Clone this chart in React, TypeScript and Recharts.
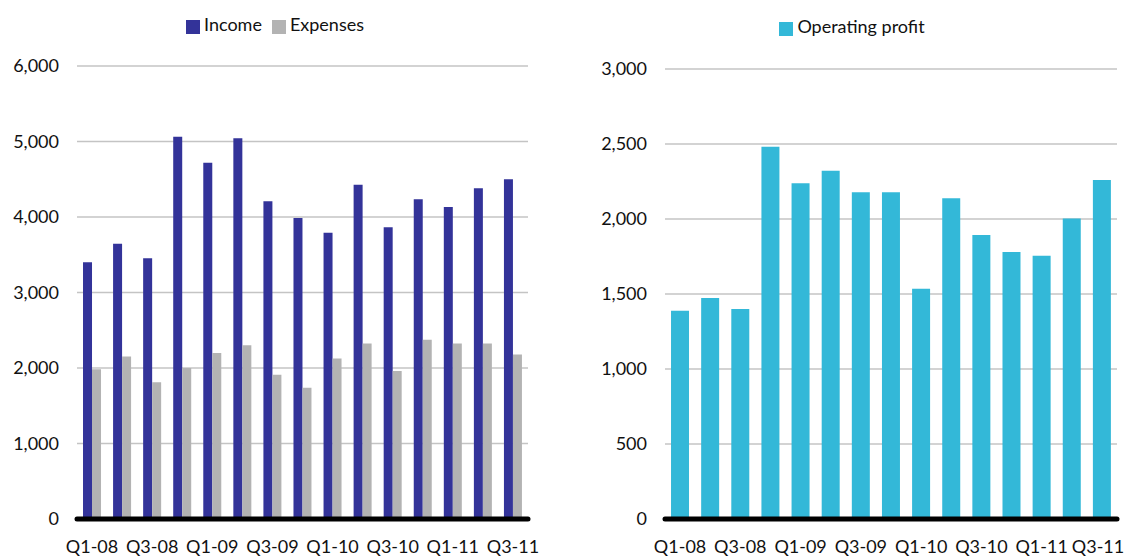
import React from 'react';
import { BarChart, Bar, XAxis, YAxis, CartesianGrid, Legend } from 'recharts';

const quarters = ['Q1-08','Q2-08','Q3-08','Q4-08','Q1-09','Q2-09','Q3-09','Q4-09','Q1-10','Q2-10','Q3-10','Q4-10','Q1-11','Q2-11','Q3-11'];
const income = [3400, 3646, 3453, 5064, 4719, 5042, 4208, 3987, 3792, 4428, 3863, 4234, 4132, 4380, 4499];
const expenses = [1985, 2153, 1810, 2000, 2200, 2302, 1910, 1738, 2127, 2325, 1959, 2373, 2325, 2325, 2180];
const operatingProfit = [1389, 1473, 1400, 2482, 2238, 2322, 2178, 2178, 1535, 2138, 1893, 1780, 1755, 2004, 2260];
const leftTicks = [0, 1000, 2000, 3000, 4000, 5000, 6000];
const rightTicks = [0, 500, 1000, 1500, 2000, 2500, 3000];

const leftData = quarters.map((q, i) => ({ q, Income: income[i], Expenses: expenses[i] }));
const rightData = quarters.map((q, i) => ({ q, 'Operating profit': operatingProfit[i] }));

const fmt = (v: number) => v.toLocaleString('en-US');
const tickStyle = { fill: '#111', fontSize: 18, fontFamily: 'Lato' };
const legendFormatter = (v: string) => <span style={{ color: '#111', fontSize: 18, fontFamily: 'Lato' }}>{v}</span>;
const axisLineStyle = { stroke: '#000', strokeWidth: 5, strokeLinecap: 'round' as const };

const makeXTick = (maxX: number) => (props: any) => {
  const { x, y, payload } = props;
  const cx = Math.min(x, maxX);
  return (
    <text x={cx} y={y} dy="0.71em" textAnchor="middle" fill="#111" fontSize={18} fontFamily="Lato">
      {payload.value}
    </text>
  );
};

const leftOrder = ['Income', 'Expenses'];
const sorter = (item: any) => leftOrder.indexOf(item.value);

export default function App() {
  return (
    <div style={{ position: 'absolute', left: 0, top: 0, width: 1125, height: 557, display: 'flex', background: '#fff', fontFamily: 'Lato' }}>
      <BarChart width={560} height={557} data={leftData} margin={{ top: 66, right: 32, bottom: 0, left: 0 }} barCategoryGap="20%" barGap={0}>
        <CartesianGrid vertical={false} stroke="#c4c4c4" strokeWidth={1.5} />
        <Legend layout="horizontal" verticalAlign="middle" align="center" iconType="square" iconSize={14}
          formatter={legendFormatter} itemSorter={sorter}
          wrapperStyle={{ top: 13, left: 0, width: 560, lineHeight: '22px' }} />
        <YAxis width={77} domain={[0, 6000]} ticks={leftTicks} tickFormatter={fmt} axisLine={false} tickLine={false} tickMargin={12} tick={tickStyle} />
        <Bar dataKey="Income" fill="#333399" isAnimationActive={false} />
        <Bar dataKey="Expenses" fill="#b3b3b3" isAnimationActive={false} />
        <XAxis dataKey="q" height={38} interval={1} axisLine={axisLineStyle} tickLine={false} tickMargin={15} tick={makeXTick(560 - 27)} />
      </BarChart>
      <BarChart width={565} height={557} data={rightData} margin={{ top: 69, right: 8, bottom: 0, left: 0 }} barCategoryGap="20%" barGap={0}>
        <CartesianGrid vertical={false} stroke="#c4c4c4" strokeWidth={1.5} />
        <Legend layout="horizontal" verticalAlign="middle" align="center" iconType="square" iconSize={14}
          formatter={legendFormatter}
          wrapperStyle={{ top: 15, left: 15, width: 564, lineHeight: '22px' }} />
        <YAxis width={105} domain={[0, 3000]} ticks={rightTicks} tickFormatter={fmt} axisLine={false} tickLine={false} tickMargin={12} tick={tickStyle} />
        <Bar dataKey="Operating profit" fill="#33b8d8" isAnimationActive={false} />
        <XAxis dataKey="q" height={38} interval={1} axisLine={axisLineStyle} tickLine={false} tickMargin={15} tick={makeXTick(565 - 27)} />
      </BarChart>
    </div>
  );
}
